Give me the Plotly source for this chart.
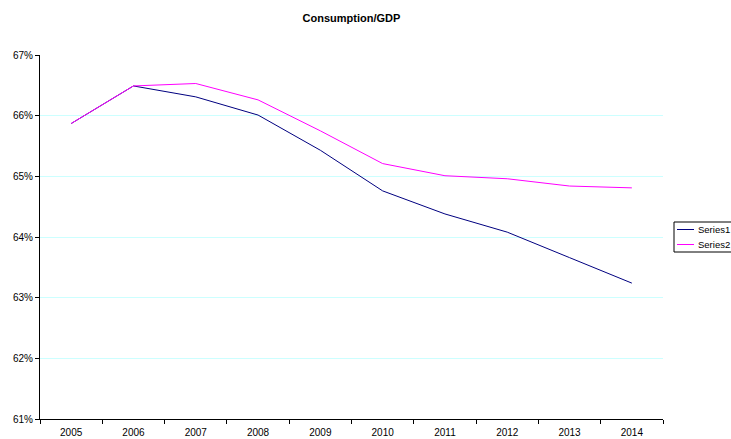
import plotly.graph_objects as go

years = ["2005", "2006", "2007", "2008", "2009", "2010", "2011", "2012", "2013", "2014"]
series1 = [65.87, 66.49, 66.31, 66.01, 65.43, 64.76, 64.38, 64.08, 63.66, 63.24]
series2 = [65.87, 66.49, 66.53, 66.26, 65.75, 65.21, 65.01, 64.96, 64.84, 64.81]
names = ["Series1", "Series2"]
colors = ["#000080", "#ff00ff"]
y_ticks = [61, 62, 63, 64, 65, 66, 67]
y_labels = [f"{v}%" for v in y_ticks]

W, H = 731, 439
L, R, T, B = 40, 68, 55, 20
pw, ph = W - L - R, H - T - B

fig = go.Figure()
for name, vals, col in zip(names, [series1, series2], colors):
    fig.add_trace(go.Scatter(x=years, y=vals, mode="lines", name=name,
                             line=dict(color=col, width=1)))

def px_x(x):  # page pixel -> paper x
    return (x - L) / pw

def px_y(y):  # page pixel -> paper y
    return (H - B - y) / ph

# manual legend (box runs past the window edge as in the reference)
shapes = [dict(type="rect", xref="paper", yref="paper",
               x0=px_x(674), x1=px_x(745), y0=px_y(252), y1=px_y(222),
               line=dict(color="black", width=1), fillcolor="white", layer="above")]
annotations = []
for i, (name, col) in enumerate(zip(names, colors)):
    yy = 229.5 + i * 15
    shapes.append(dict(type="line", xref="paper", yref="paper",
                       x0=px_x(677), x1=px_x(694), y0=px_y(yy), y1=px_y(yy),
                       line=dict(color=col, width=1), layer="above"))
    annotations.append(dict(text=name, xref="paper", yref="paper", x=px_x(696), y=px_y(yy),
                            xanchor="left", yanchor="middle", showarrow=False,
                            font=dict(size=9.5, color="black")))

font = "Liberation Sans, Arial, sans-serif"
fig.update_layout(
    width=W, height=H,
    margin=dict(l=L, r=R, t=T, b=B, autoexpand=False),
    paper_bgcolor="white", plot_bgcolor="white",
    font=dict(family=font, size=10, color="black"),
    title=dict(text="<b>Consumption/GDP</b>", x=0.5, xref="paper", xanchor="center",
               y=1 - 18 / H, yanchor="middle", font=dict(size=11, family=font)),
    showlegend=False,
    shapes=shapes,
    annotations=annotations,
    xaxis=dict(type="category", range=[-0.5, len(years) - 0.5],
               showline=True, linecolor="black", linewidth=1,
               ticks="outside", ticklen=4, tickcolor="black", tickson="boundaries",
               ticklabelstandoff=4,
               showgrid=False, zeroline=False, fixedrange=True),
    yaxis=dict(range=[61, 67], tickvals=y_ticks, ticktext=y_labels,
               showline=True, linecolor="black", linewidth=1,
               ticks="outside", ticklen=4, tickcolor="black",
               showgrid=True, gridcolor="#ccffff", gridwidth=1, zeroline=False,
               fixedrange=True),
)

fig.write_html("out.html", config={"displayModeBar": False},
               post_script="document.body.style.margin='0';document.body.style.overflow='hidden';")
